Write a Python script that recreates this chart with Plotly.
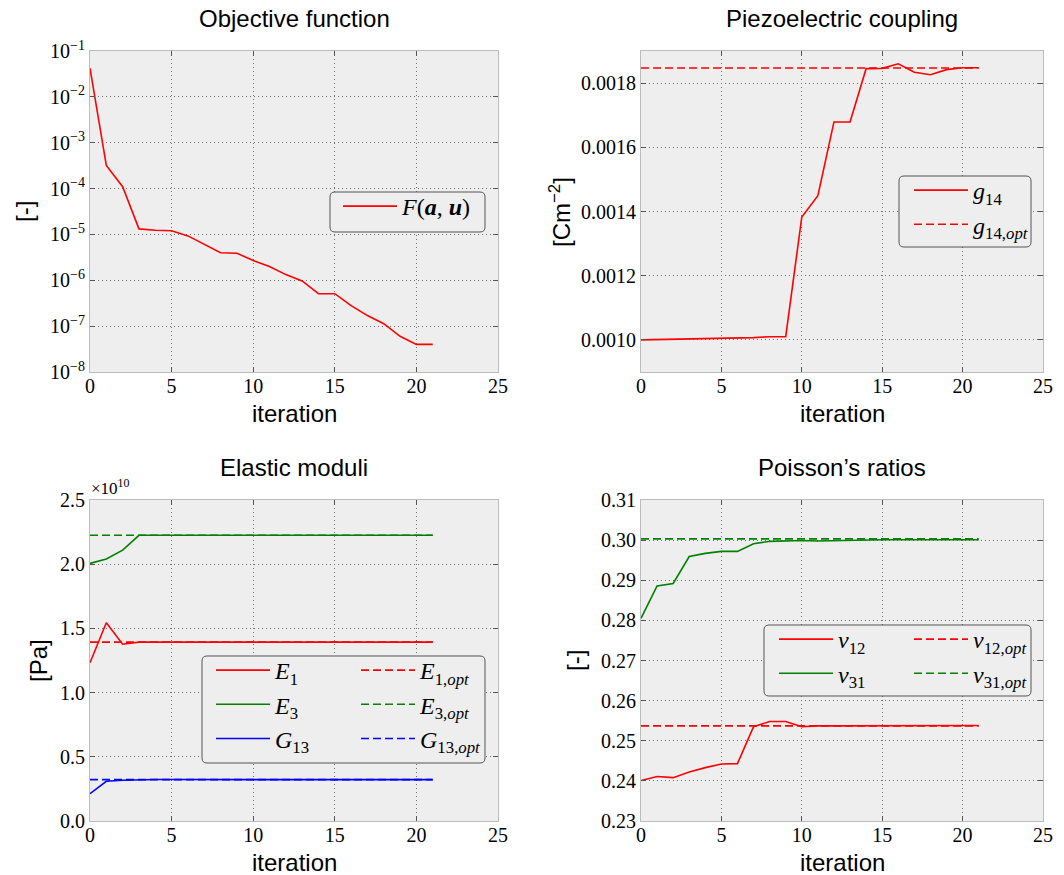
import plotly.graph_objects as go

# ---------------- data ----------------
iterations = list(range(22))

objective = [4.2e-2, 3.2e-4, 1.1e-4, 1.32e-5, 1.23e-5, 1.2e-5, 9.3e-6, 6.2e-6,
             4.0e-6, 3.9e-6, 2.7e-6, 2.0e-6, 1.33e-6, 9.7e-7, 5.1e-7, 5.1e-7,
             2.8e-7, 1.7e-7, 1.13e-7, 6.0e-8, 4.0e-8, 4.0e-8]

g14 = [0.001000, 0.001001, 0.001002, 0.001003, 0.001003, 0.001004, 0.001004,
       0.001007, 0.001010, 0.001010, 0.001383, 0.001449, 0.001679, 0.001679,
       0.001845, 0.001846, 0.001860, 0.001834, 0.001826, 0.001842, 0.001848,
       0.001848]
g14_opt = 0.001847

# elastic moduli in units of 1e10 Pa
E1 = [1.232, 1.544, 1.377, 1.393, 1.393, 1.393, 1.394, 1.393, 1.393, 1.393, 1.393,
      1.393, 1.393, 1.393, 1.393, 1.393, 1.393, 1.393, 1.393, 1.393, 1.393, 1.393]
E3 = [2.006, 2.040, 2.110, 2.225, 2.225, 2.225, 2.225, 2.225, 2.226, 2.226, 2.226,
      2.226, 2.225, 2.225, 2.225, 2.225, 2.225, 2.225, 2.225, 2.225, 2.225, 2.225]
G13 = [0.213, 0.309, 0.317, 0.322, 0.323, 0.323, 0.322, 0.322, 0.322, 0.322, 0.322,
       0.322, 0.322, 0.322, 0.322, 0.322, 0.322, 0.322, 0.322, 0.322, 0.322, 0.322]
E1_opt, E3_opt, G13_opt = 1.393, 2.225, 0.322

nu12 = [0.2401, 0.2411, 0.2408, 0.2422, 0.2433, 0.2442, 0.2443, 0.2535, 0.2548,
        0.2548, 0.2535, 0.2537, 0.2537, 0.2537, 0.2538, 0.2538, 0.2538, 0.2538,
        0.2538, 0.2538, 0.2538, 0.2538]
nu31 = [0.2805, 0.2886, 0.2892, 0.2959, 0.2967, 0.2972, 0.2972, 0.2991, 0.2997,
        0.2998, 0.2999, 0.2998, 0.2999, 0.2999, 0.3000, 0.3001, 0.3001, 0.3001,
        0.3001, 0.3001, 0.3001, 0.3001]
nu12_opt, nu31_opt = 0.2537, 0.3003

x_ticks = [0, 5, 10, 15, 20, 25]
obj_exponents = [-8, -7, -6, -5, -4, -3, -2, -1]
obj_tickvals = [10.0 ** e for e in obj_exponents]
obj_ticktext = ["10<sup>\u2212%d</sup>" % (-e) for e in obj_exponents]
g14_ticks = [0.0010, 0.0012, 0.0014, 0.0016, 0.0018]
E_ticks = [0.0, 0.5, 1.0, 1.5, 2.0, 2.5]
nu_ticks = [0.23, 0.24, 0.25, 0.26, 0.27, 0.28, 0.29, 0.30, 0.31]

# ---------------- layout helpers ----------------
W, H = 1064, 875
SERIF = "Liberation Serif"
SANS = "Liberation Sans"


def px(x):
    return x / W


def py(y):
    return 1 - y / H


# panel pixel boxes: (left, right, top, bottom)
panels = {
    1: (90, 498, 51, 372),
    2: (641, 1043, 51, 372),
    3: (90, 498, 500, 821),
    4: (641, 1043, 500, 821),
}

axis_common = dict(
    showline=True, linecolor="#bcbcbc", linewidth=1, mirror="ticks",
    ticks="inside", ticklen=5, tickwidth=1, tickcolor="#555555",
    showgrid=True, gridcolor="#707070", gridwidth=1, griddash="1px,3px",
    zeroline=False, automargin=False,
    tickfont=dict(family=SERIF, size=20, color="black"),
)

fig = go.Figure()

RED, GREEN, BLUE = "#ff0000", "#008000", "#0000ff"
LW = 1.6
DASH = "8px,4px"


def add_line(x, y, color, name, ax, legend, dash=None):
    fig.add_trace(go.Scatter(
        x=x, y=y, mode="lines", name=name,
        line=dict(color=color, width=LW, dash=dash) if dash else dict(color=color, width=LW),
        xaxis="x" if ax == 1 else "x%d" % ax,
        yaxis="y" if ax == 1 else "y%d" % ax,
        legend=legend, hoverinfo="skip",
    ))


n = len(iterations)
# Panel 1
add_line(iterations, objective, RED,
         "<i>F</i>(<b><i>a</i></b>, <b><i>u</i></b>)", 1, "legend")
# Panel 2
add_line(iterations, [g14_opt] * n, RED, "<i>g</i><sub>14,<i>opt</i></sub>", 2, "legend2", DASH)
add_line(iterations, g14, RED, "<i>g</i><sub>14</sub>", 2, "legend2")
# Panel 3
add_line(iterations, [E1_opt] * n, RED, "<i>E</i><sub>1,<i>opt</i></sub>", 3, "legend4", DASH)
add_line(iterations, [E3_opt] * n, GREEN, "<i>E</i><sub>3,<i>opt</i></sub>", 3, "legend4", DASH)
add_line(iterations, [G13_opt] * n, BLUE, "<i>G</i><sub>13,<i>opt</i></sub>", 3, "legend4", DASH)
add_line(iterations, E1, RED, "<i>E</i><sub>1</sub>", 3, "legend3")
add_line(iterations, E3, GREEN, "<i>E</i><sub>3</sub>", 3, "legend3")
add_line(iterations, G13, BLUE, "<i>G</i><sub>13</sub>", 3, "legend3")
# Panel 4
add_line(iterations, [nu12_opt] * n, RED, "<i>\u03bd</i><sub>12,<i>opt</i></sub>", 4, "legend6", DASH)
add_line(iterations, [nu31_opt] * n, GREEN, "<i>\u03bd</i><sub>31,<i>opt</i></sub>", 4, "legend6", DASH)
add_line(iterations, nu12, RED, "<i>\u03bd</i><sub>12</sub>", 4, "legend5")
add_line(iterations, nu31, GREEN, "<i>\u03bd</i><sub>31</sub>", 4, "legend5")

layout = dict(
    width=W, height=H,
    margin=dict(l=0, r=0, t=0, b=0, pad=0, autoexpand=False),
    paper_bgcolor="white", plot_bgcolor="#eeeeee",
    showlegend=True,
)

yaxis_specs = {
    1: dict(type="log", range=[-8, -1], tickvals=obj_tickvals, ticktext=obj_ticktext),
    2: dict(range=[0.0009, 0.0019], tickvals=g14_ticks, tickformat=".4f"),
    3: dict(range=[0.0, 2.5], tickvals=E_ticks, tickformat=".1f"),
    4: dict(range=[0.23, 0.31], tickvals=nu_ticks, tickformat=".2f"),
}

for k, (l, r, t, b) in panels.items():
    xa = "xaxis" if k == 1 else "xaxis%d" % k
    ya = "yaxis" if k == 1 else "yaxis%d" % k
    xa_id = "x" if k == 1 else "x%d" % k
    ya_id = "y" if k == 1 else "y%d" % k
    layout[xa] = dict(axis_common, domain=[px(l), px(r)], anchor=ya_id,
                      range=[0, 25], tickvals=x_ticks, ticklabelstandoff=-4)
    layout[ya] = dict(axis_common, domain=[py(b), py(t)], anchor=xa_id,
                      **yaxis_specs[k])


def legend_at(sample_x, row1_y):
    return dict(
        x=px(sample_x - 5), y=py(row1_y - 25), xanchor="left", yanchor="top",
        bgcolor="rgba(0,0,0,0)", borderwidth=0, itemwidth=54,
        font=dict(family=SERIF, size=24, color="black"),
        tracegroupgap=0, traceorder="normal",
    )


layout["legend"] = legend_at(343, 209)
layout["legend2"] = legend_at(914, 193)
layout["legend2"]["traceorder"] = "reversed"
layout["legend3"] = legend_at(216, 673)
layout["legend4"] = legend_at(361, 673)
layout["legend5"] = legend_at(779, 642)
layout["legend6"] = legend_at(914, 642)


def rounded_box(x0, y0, x1, y1, r=5):
    pts = [
        "M %f,%f" % (px(x0 + r), py(y0)),
        "L %f,%f" % (px(x1 - r), py(y0)),
        "Q %f,%f %f,%f" % (px(x1), py(y0), px(x1), py(y0 + r)),
        "L %f,%f" % (px(x1), py(y1 - r)),
        "Q %f,%f %f,%f" % (px(x1), py(y1), px(x1 - r), py(y1)),
        "L %f,%f" % (px(x0 + r), py(y1)),
        "Q %f,%f %f,%f" % (px(x0), py(y1), px(x0), py(y1 - r)),
        "L %f,%f" % (px(x0), py(y0 + r)),
        "Q %f,%f %f,%f" % (px(x0), py(y0), px(x0 + r), py(y0)),
        "Z",
    ]
    return dict(type="path", path=" ".join(pts), xref="paper", yref="paper",
                line=dict(color="#555555", width=1), fillcolor="#eeeeee",
                layer="above")


layout["shapes"] = [
    rounded_box(330, 192, 485, 232),
    rounded_box(899, 176, 1031, 247),
    rounded_box(202, 656, 485, 763),
    rounded_box(764, 625, 1031, 696),
]

annotations = []


def text(x, y, s, size=24, angle=0, family=SANS, xanchor="center", yanchor="middle"):
    annotations.append(dict(
        x=px(x), y=py(y), xref="paper", yref="paper", text=s, showarrow=False,
        textangle=angle, xanchor=xanchor, yanchor=yanchor,
        font=dict(family=family, size=size, color="black"),
    ))


# titles
text(294, 19, "Objective function")
text(842, 19, "Piezoelectric coupling")
text(294, 468, "Elastic moduli")
text(842, 468, "Poisson\u2019s ratios")
# x labels
text(294, 413, "iteration")
text(842, 413, "iteration")
text(294, 862, "iteration")
text(842, 862, "iteration")
# y labels
text(24, 212, "[-]", angle=-90)
text(560, 212, "[Cm<sup>\u22122</sup>]", angle=-90)
text(38, 661, "[Pa]", angle=-90)
text(575, 661, "[-]", angle=-90)
# offset text
text(89, 500, "\u00d710<sup>10</sup>", size=17, family=SERIF, xanchor="left", yanchor="bottom")

layout["annotations"] = annotations
fig.update_layout(layout)

fig.write_html(
    "out.html",
    config={"displayModeBar": False},
    post_script="document.body.style.margin='0';document.body.style.overflow='hidden';",
)
